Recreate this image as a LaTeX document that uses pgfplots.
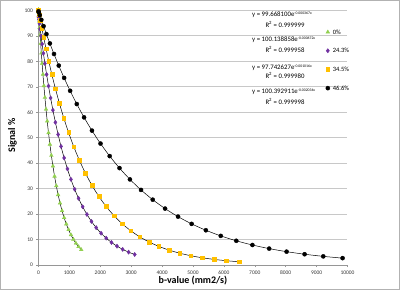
\documentclass[border=0pt]{standalone}
\usepackage{fontspec}
\setmainfont{Carlito}
\usepackage{pgfplots}
\pgfplotsset{compat=1.18}
\usepackage{pgfplotstable}
\definecolor{cgreen}{RGB}{146,208,80}
\definecolor{cpurple}{RGB}{112,48,160}
\definecolor{cyellow}{RGB}{255,192,0}
\definecolor{cgrid}{RGB}{200,200,200}
\definecolor{caxis}{RGB}{150,150,150}

\pgfplotstableread{
b v
0 100.39
1.44 100.10
5.76 99.22
12.96 97.78
23.04 95.80
36 93.30
51.84 90.35
70.56 86.97
92.16 83.23
116.64 79.19
144 74.90
174.24 70.43
207.36 65.84
243.36 61.20
282.24 56.54
324 51.94
368.64 47.43
416.16 43.06
466.56 38.86
519.84 34.87
576 31.11
635.04 27.59
696.96 24.32
761.76 21.32
829.44 18.58
900 16.09
973.44 13.86
1049.76 11.87
1128.96 10.10
1211.04 8.55
1296 7.19
1383.84 6.01
}\tgreen

\pgfplotstableread{
b v
0 97.74
3.24 97.42
12.96 96.46
29.16 94.89
51.84 92.73
81 90.02
116.64 86.82
158.76 83.18
207.36 79.17
262.44 74.86
324 70.33
392.04 65.63
466.56 60.84
547.56 56.04
635.04 51.27
729 46.60
829.44 42.08
936.36 37.75
1049.76 33.64
1169.64 29.79
1296 26.20
1428.84 22.89
1568.16 19.87
1713.96 17.13
1866.24 14.68
2025 12.49
2190.24 10.56
2361.96 8.87
2540.16 7.40
2724.84 6.14
2916 5.05
3113.64 4.13
}\tpurple

\pgfplotstableread{
b v
0 100.14
6.76 99.68
27.04 98.34
60.84 96.13
108.16 93.12
169 89.39
243.36 85.03
331.24 80.16
432.64 74.87
547.56 69.31
676 63.58
817.96 57.79
973.44 52.06
1142.44 46.47
1324.96 41.11
1521 36.03
1730.56 31.30
1953.64 26.94
2190.24 22.98
2440.36 19.43
2704 16.27
2981.16 13.51
3271.84 11.11
3575.64 9.06
3893.76 7.32
4225 5.86
4569.76 4.64
4928.04 3.65
5299.84 2.84
5685.16 2.20
6084 1.68
6496.36 1.27
}\tyellow

\pgfplotstableread{
b v
0 99.67
10.24 99.29
40.96 98.18
92.16 96.35
163.84 93.85
256 90.73
368.64 87.06
501.76 82.91
655.36 78.36
829.44 73.51
1024 68.45
1239.04 63.25
1474.56 58.01
1730.56 52.81
2007.04 47.72
2304 42.79
2621.44 38.08
2959.36 33.64
3317.76 29.50
3696.64 25.67
4096 22.17
4515.84 19.00
4956.16 16.16
5416.96 13.65
5898.24 11.44
6400 9.52
6922.24 7.86
7464.96 6.44
8028.16 5.24
8611.84 4.23
9216 3.39
9840.64 2.69
}\tblack

\pgfplotsset{lgm/.style={legend image code/.code={\draw[##1] plot coordinates {(0pt,0pt)};}}}
\newcommand{\expo}[1]{\raisebox{2.4pt}{\fontsize{3.8}{4}\selectfont #1}}

\begin{document}
\begin{tikzpicture}
\useasboundingbox (-38.5pt,-25pt) rectangle (361.5pt,265pt);
\draw[gray!60, line width=0.7pt] (-38.15pt,-24.65pt) rectangle (361.15pt,264.65pt);
\begin{axis}[
  at={(0,0)}, anchor=south west,
  scale only axis, width=309pt, height=254.5pt,
  xmin=0, xmax=10000, ymin=0, ymax=100,
  xtick={0,1000,...,10000}, ytick={0,10,...,100},
  scaled x ticks=false,
  /pgf/number format/set thousands separator={},
  /pgf/number format/assume math mode=true,
  ymajorgrids, major grid style={cgrid, line width=1pt},
  axis x line*=bottom, axis y line*=left,
  axis line style={caxis, line width=0.6pt},
  tick style={caxis, line width=0.5pt},
  tick align=outside, major tick length=2pt,
  ticklabel style={font=\fontsize{5.5}{6}\selectfont, text=black!80},
  xlabel={\textbf{b-value (mm2/s)}}, ylabel={\textbf{Signal \%}},
  label style={font=\fontsize{10}{12}\selectfont},
  xlabel style={at={(axis description cs:0.5,-0.063)}, anchor=center},
  ylabel style={at={(axis description cs:-0.084,0.51)}, anchor=center},
  clip=false,
  legend style={at={(axis description cs:0.929,0.925)}, anchor=north west,
    draw=none, fill=none, inner sep=0pt, font=\fontsize{6.5}{7}\selectfont,
    nodes={inner sep=0pt, text height=4.5pt, text depth=0pt},
    row sep=14.2pt,
    /tikz/every odd column/.append style={column sep=3pt}},
  legend cell align=left,
]
\addplot[only marks, mark=triangle*, mark size=2.1pt, color=cgreen, lgm] table[x=b,y=v]{\tgreen};
\addlegendentry{0\%}
\addplot[only marks, mark=diamond*, mark size=2.1pt, color=cpurple, lgm] table[x=b,y=v]{\tpurple};
\addlegendentry{24.3\%}
\addplot[only marks, mark=square*, mark size=1.85pt, color=cyellow, lgm] table[x=b,y=v]{\tyellow};
\addlegendentry{34.5\%}
\addplot[only marks, mark=*, mark size=2.05pt, color=black, lgm] table[x=b,y=v]{\tblack};
\addlegendentry{46.6\%}
\addplot[black, line width=0.5pt, smooth, forget plot] table[x=b,y=v]{\tgreen};
\addplot[black, line width=0.5pt, smooth, forget plot] table[x=b,y=v]{\tpurple};
\addplot[black, line width=0.5pt, smooth, forget plot] table[x=b,y=v]{\tyellow};
\addplot[black, line width=0.5pt, smooth, forget plot] table[x=b,y=v]{\tblack};
\end{axis}
\begin{scope}[every node/.style={font=\fontsize{6.8}{7}\selectfont, inner sep=0pt}]
\node[anchor=west] at (213.5pt,250pt) {y = 99.668100e\expo{-0.000367x}};
\node at (246.5pt,240.5pt) {R\textsuperscript{2} = 0.999999};
\node[anchor=west] at (213.5pt,225pt) {y = 100.138858e\expo{-0.000672x}};
\node at (246.5pt,215.5pt) {R\textsuperscript{2} = 0.999958};
\node[anchor=west] at (213.5pt,197.5pt) {y = 97.742627e\expo{-0.001016x}};
\node at (246.5pt,189.5pt) {R\textsuperscript{2} = 0.999980};
\node[anchor=west] at (213.5pt,173pt) {y = 100.392911e\expo{-0.002034x}};
\node at (246.5pt,164pt) {R\textsuperscript{2} = 0.999998};
\end{scope}
\end{tikzpicture}
\end{document}
